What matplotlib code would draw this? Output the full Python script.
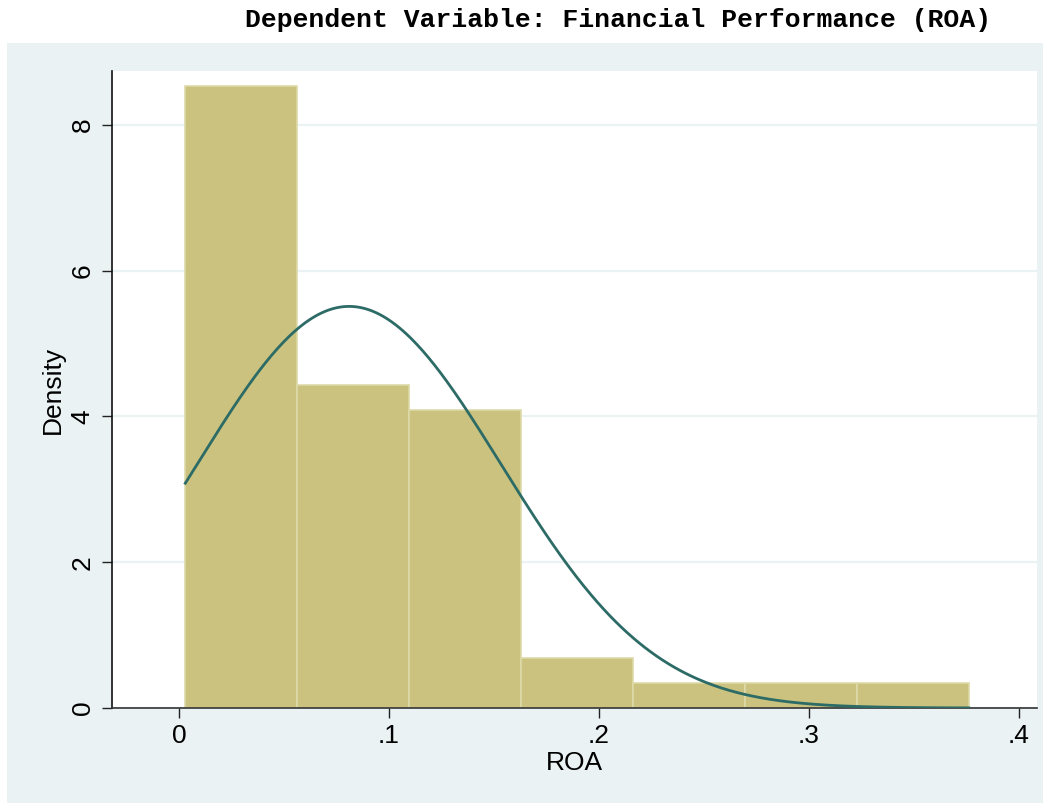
import numpy as np
import matplotlib
matplotlib.use("Agg")
import matplotlib.pyplot as plt
from matplotlib.patches import Rectangle

# histogram of ROA (7 bins) with normal density overlay
edges = [0.003, 0.0563, 0.1096, 0.1629, 0.2162, 0.2695, 0.3228, 0.3761]
counts = [25, 13, 12, 2, 1, 1, 1]
mu = 0.081
sd = 0.0724

xticks = [0, 0.1, 0.2, 0.3, 0.4]
xticklabels = ["0", ".1", ".2", ".3", ".4"]
yticks = [0, 2, 4, 6, 8]

plt.rcParams["font.family"] = "Liberation Sans"

W, H = 1051, 807
fig = plt.figure(figsize=(W / 100, H / 100), dpi=100)
fig.patch.set_facecolor("white")
fig.patches.append(Rectangle((7 / W, 1 - 803 / H), (1043 - 7) / W, (803 - 43) / H,
                             transform=fig.transFigure, facecolor="#EAF2F3",
                             edgecolor="none", zorder=-5))

ax = fig.add_axes([112 / W, 1 - 708 / H, (1037 - 112) / W, (708 - 71) / H])
ax.set_facecolor("white")

edges = np.array(edges)
widths = np.diff(edges)
dens = np.array(counts) / (sum(counts) * widths)
ax.bar(edges[:-1], dens, width=widths, align="edge", color="#CAC27E",
       edgecolor="#DEDAA8", linewidth=1.2, zorder=2)

xs = np.linspace(edges[0], edges[-1], 400)
ys = np.exp(-0.5 * ((xs - mu) / sd) ** 2) / (sd * np.sqrt(2 * np.pi))
ax.plot(xs, ys, color="#2C6B66", lw=2, zorder=3)

ax.set_xlim(-0.0319, 0.4086)
ax.set_ylim(0, 8.74)
ax.set_xticks(xticks)
ax.set_xticklabels(xticklabels)
ax.set_yticks(yticks)
ax.yaxis.grid(True, color="#EAF2F3", lw=1.6, zorder=0)
ax.set_axisbelow(True)

for s in ["top", "right"]:
    ax.spines[s].set_visible(False)
ax.spines["left"].set_color("#111111")
ax.spines["bottom"].set_color("#333333")
ax.spines["left"].set_linewidth(1.2)
ax.spines["bottom"].set_linewidth(1.2)

ax.tick_params(axis="both", direction="out", length=7.5, width=1, colors="#222222",
               labelcolor="black", labelsize=19)
ax.tick_params(axis="x", pad=4)
ax.tick_params(axis="y", pad=5)
for lab in ax.get_yticklabels():
    lab.set_rotation(90)
    lab.set_va("center")

ax.set_xlabel("ROA", fontsize=19, labelpad=2)
ax.set_ylabel("Density", fontsize=19, labelpad=4)

fig.text(618 / W, 1 - 20 / H, "Dependent Variable: Financial Performance (ROA)",
         ha="center", va="center", fontsize=19, family="Liberation Mono",
         weight="bold")

fig.savefig("out.png", dpi=100)
